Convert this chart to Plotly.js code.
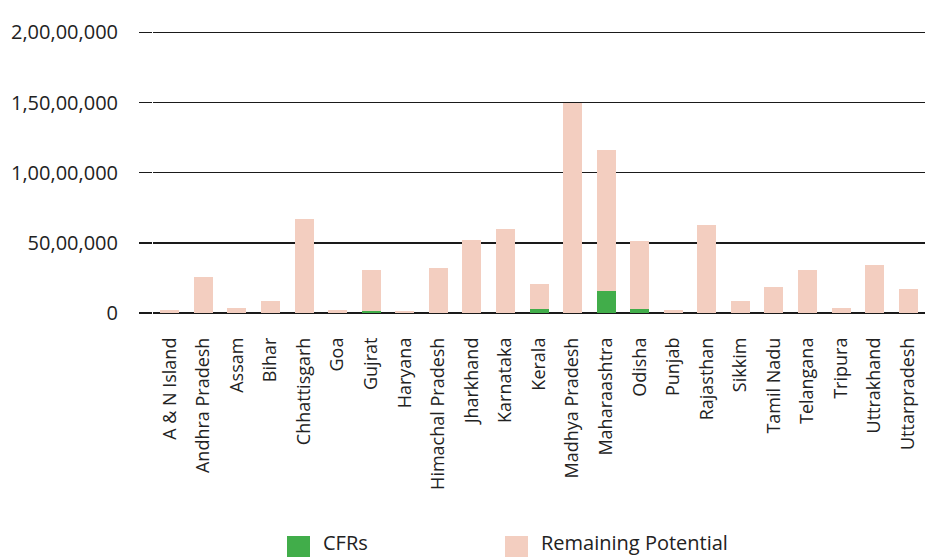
<!DOCTYPE html>
<html>
<head>
<meta charset="utf-8">
<script src="https://cdn.plot.ly/plotly-3.0.1.min.js"></script>
<style>html,body{margin:0;padding:0;background:#fff;}#chart{width:925px;height:557px;}</style>
</head>
<body>
<div id="chart"></div>
<script>
const states = ["A & N Island","Andhra Pradesh","Assam","Bihar","Chhattisgarh","Goa","Gujrat","Haryana","Himachal Pradesh","Jharkhand","Karnataka","Kerala","Madhya Pradesh","Maharaashtra","Odisha","Punjab","Rajasthan","Sikkim","Tamil Nadu","Telangana","Tripura","Uttrakhand","Uttarpradesh"];
const cfrs = [0,0,0,0,0,0,170000,0,0,0,0,310000,0,1600000,310000,0,0,0,0,0,0,0,0];
const remainingPotential = [240000,2590000,380000,880000,6670000,240000,2920000,160000,3240000,5170000,6020000,1790000,15000000,10000000,4790000,240000,6300000,880000,1880000,3090000,380000,3450000,1740000];
const yTickVals = [0,5000000,10000000,15000000,20000000];
const yTickText = ["0","50,00,000","1,00,00,000","1,50,00,000","2,00,00,000"];
const seriesNames = ["CFRs","Remaining Potential"];
const seriesColors = ["#41ad4a","#f3cec0"];

const font = "'Open Sans', 'Noto Sans', sans-serif";
const data = [
  {type:"bar", name:seriesNames[0], x:states, y:cfrs, marker:{color:seriesColors[0]}},
  {type:"bar", name:seriesNames[1], x:states, y:remainingPotential, marker:{color:seriesColors[1]}}
];

// custom legend (large square swatches)
const legendX = [287, 505];
const shapes = [], annotations = [];
seriesNames.forEach((n, i) => {
  shapes.push({type:"rect", xref:"paper", yref:"paper", layer:"above",
    x0:(legendX[i]-153)/772, x1:(legendX[i]+23-153)/772,
    y0:(313-557)/282, y1:(313-536)/282,
    fillcolor:seriesColors[i], line:{width:0}});
  annotations.push({xref:"paper", yref:"paper", x:(legendX[i]+35-153)/772, xanchor:"left",
    y:(313-557)/282, yanchor:"bottom", yshift:0, text:n, showarrow:false,
    font:{size:20, color:"#222", family:font}, borderpad:0});
});

const layout = {
  width:925, height:557,
  margin:{l:153, r:0, t:31, b:244},
  barmode:"stack",
  bargap:0.434,
  paper_bgcolor:"#fff", plot_bgcolor:"#fff",
  font:{family:font, size:18, color:"#222"},
  xaxis:{tickangle:-90, showgrid:false, showline:false, ticks:"", tickfont:{size:18, color:"#222"}, ticklabelstandoff:20},
  yaxis:{range:[0,20100000], tickvals:yTickVals, ticktext:yTickText, showgrid:true, gridcolor:"#1a1a1a", gridwidth:1.3,
         zeroline:true, zerolinecolor:"#1a1a1a", zerolinewidth:1.5, showline:false,
         ticks:"outside", ticklen:13, tickcolor:"#1a1a1a", tickwidth:1.3, ticklabelstandoff:17,
         tickfont:{size:20, color:"#222"}},
  showlegend:false,
  shapes:shapes,
  annotations:annotations
};
Plotly.newPlot("chart", data, layout, {displayModeBar:false, staticPlot:true});
</script>
</body>
</html>
